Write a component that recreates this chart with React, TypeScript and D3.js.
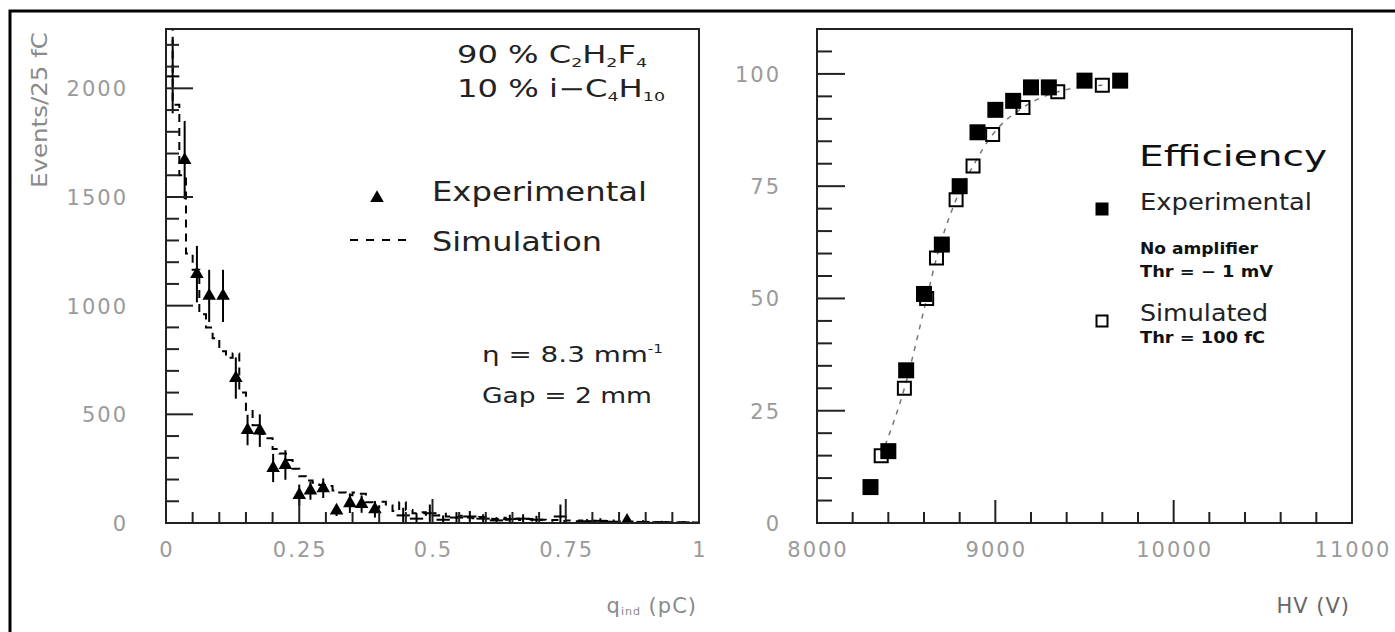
import React from "react";
import * as d3 from "d3";

const W = 1395;
const H = 632;

// ---- left panel: induced charge spectrum ----
const simBinWidth = 0.0125;
const simCounts = [
  2400, 1924, 1600, 1240, 1165, 960, 900, 850, 790, 760, 780, 600, 520, 450, 410, 390, 340, 320, 290, 250,
  215, 195, 185, 175, 170, 150, 140, 128, 140, 135, 95, 70, 98, 80, 55, 95, 60, 45, 50, 38,
  35, 42, 30, 28, 33, 25, 22, 28, 20, 18, 24, 15, 20, 14, 18, 12, 15, 10, 14, 9,
  12, 8, 11, 7, 10, 6, 9, 5, 8, 5, 7, 4, 6, 3, 5, 3, 4, 2, 3, 2,
];
const expQ = [0.035, 0.058, 0.081, 0.107, 0.131, 0.153, 0.176, 0.201, 0.224, 0.25, 0.271, 0.295, 0.32, 0.345, 0.367, 0.392, 0.865];
const expCounts = [1670, 1145, 1045, 1045, 667, 428, 425, 253, 267, 129, 149, 160, 57, 91, 87, 63, 10];
const expErr = [180, 130, 120, 120, 95, 70, 75, 65, 68, 48, 42, 45, 25, 45, 40, 38, 10];
// points drawn as crosses only (no marker)
const crossQ = [0.0125, 0.445, 0.47, 0.495, 0.52, 0.545, 0.57, 0.595, 0.62, 0.645, 0.67, 0.695, 0.74, 0.79, 0.815, 0.84, 0.895, 0.93, 0.97];
const crossCounts = [2055, 35, 20, 45, 15, 25, 30, 20, 12, 18, 20, 15, 30, 8, 10, 6, 5, 4, 3];
const crossErr = [170, 35, 25, 40, 20, 25, 25, 20, 15, 20, 20, 18, 55, 10, 12, 10, 8, 6, 5];
const leftXLabels = ["0", "0.25", "0.5", "0.75", "1"];
const leftYLabels = [0, 500, 1000, 1500, 2000];

// ---- right panel: efficiency vs HV ----
const hvExp = [8300, 8400, 8500, 8600, 8700, 8800, 8900, 9000, 9100, 9200, 9300, 9500, 9700];
const effExp = [8, 16, 34, 51, 62, 75, 87, 92, 94, 97, 97, 98.5, 98.5];
const hvSim = [8360, 8490, 8615, 8670, 8780, 8875, 8985, 9155, 9350, 9600];
const effSim = [15, 30, 50, 59, 72, 79.5, 86.5, 92.5, 96, 97.5];
const rightXLabels = [8000, 9000, 10000, 11000];
const rightYLabels = [0, 25, 50, 75, 100];

const FONT = "'DejaVu Sans', sans-serif";
const TICK_COLOR = "#9a9a9a";

export default function App() {
  // scales
  const xL = d3.scaleLinear().domain([0, 1]).range([166, 699]);
  const yL = d3.scaleLinear().domain([0, 2273]).range([523, 29]);
  const xR = d3.scaleLinear().domain([8000, 11000]).range([817, 1352]);
  const yR = d3.scaleLinear().domain([0, 110]).range([523, 29]);

  // histogram step path
  const histPts: [number, number][] = simCounts.map((c, i) => [i * simBinWidth, c]);
  histPts.push([simCounts.length * simBinWidth, simCounts[simCounts.length - 1]]);
  const histLine = d3
    .line<[number, number]>()
    .x((d) => xL(d[0]))
    .y((d) => yL(d[1]))
    .curve(d3.curveStepAfter);

  const fitLine = d3
    .line<number>()
    .x((_, i) => xR(hvSim[i]))
    .y((d) => yR(d))
    .curve(d3.curveMonotoneX);

  const tri = d3.symbol().type(d3.symbolTriangle).size(80)();
  const sqFilled = d3.symbol().type(d3.symbolSquare).size(256)();
  const sqOpen = d3.symbol().type(d3.symbolSquare).size(169)();
  const legSqFilled = d3.symbol().type(d3.symbolSquare).size(169)();
  const legSqOpen = d3.symbol().type(d3.symbolSquare).size(121)();

  const leftYTicks = d3.range(0, 2201, 100);
  const leftXTicks = d3.range(0, 21).map((i) => i * 0.05);
  const rightXTicks = d3.range(8000, 11001, 200);
  const rightYTicks = d3.range(0, 111, 5);

  const axisStroke = "#222";

  return (
    <svg
      width={W}
      height={H}
      style={{ position: "absolute", left: 0, top: 0, background: "#fff" }}
      fontFamily={FONT}
    >
      <defs>
        <clipPath id="clipL">
          <rect x={166} y={29} width={533} height={494} />
        </clipPath>
      </defs>
      <rect x={0} y={0} width={W} height={H} fill="#fff" />
      {/* outer frame */}
      <path d={`M${W} 11 H10 V${H}`} fill="none" stroke="#000" strokeWidth={3} />

      {/* ===== LEFT PANEL ===== */}
      <g clipPath="url(#clipL)">
        <path
          d={histLine(histPts) || ""}
          fill="none"
          stroke="#000"
          strokeWidth={2}
          strokeDasharray="8 6"
        />
        {crossQ.map((q, i) => (
          <g key={"c" + i} stroke="#000" strokeWidth={2}>
            <line x1={xL(q)} x2={xL(q)} y1={yL(crossCounts[i] + crossErr[i])} y2={yL(Math.max(0, crossCounts[i] - crossErr[i]))} />
            <line x1={xL(q - 0.0125)} x2={xL(q + 0.0125)} y1={yL(crossCounts[i])} y2={yL(crossCounts[i])} />
          </g>
        ))}
        {expQ.map((q, i) => (
          <g key={"e" + i}>
            <line
              x1={xL(q)}
              x2={xL(q)}
              y1={yL(expCounts[i] + expErr[i])}
              y2={yL(Math.max(0, expCounts[i] - expErr[i]))}
              stroke="#000"
              strokeWidth={2}
            />
            <path d={tri || ""} transform={`translate(${xL(q)},${yL(expCounts[i])})`} fill="#000" />
          </g>
        ))}
      </g>
      <rect x={166} y={29} width={533} height={494} fill="none" stroke={axisStroke} strokeWidth={2} />
      {leftYTicks.map((v) => (
        <line key={"ly" + v} x1={166} x2={166 + (v % 500 === 0 ? 27 : 13)} y1={yL(v)} y2={yL(v)} stroke={axisStroke} strokeWidth={2} />
      ))}
      {leftXTicks.map((v, i) => (
        <line key={"lx" + i} x1={xL(v)} x2={xL(v)} y1={523} y2={523 - (i % 5 === 0 ? 24 : 11)} stroke={axisStroke} strokeWidth={2} />
      ))}
      {leftYLabels.map((v) => (
        <text key={"lyl" + v} x={128} y={yL(v) + 8} textAnchor="end" fontSize={21} fill={TICK_COLOR} letterSpacing={2}>
          {v}
        </text>
      ))}
      {leftXLabels.map((s) => (
        <text key={"lxl" + s} x={xL(+s) + 1} y={557} textAnchor="middle" fontSize={21} fill={TICK_COLOR} letterSpacing={2}>
          {s}
        </text>
      ))}
      <text transform="translate(47,188) rotate(-90)" fontSize={21} fill="#8a8a8a" textLength={156} lengthAdjust="spacingAndGlyphs">
        Events/25 fC
      </text>
      <text x={697} y={613} textAnchor="end" fontSize={21} fill="#8a8a8a" letterSpacing={1}>
        q<tspan fontSize={11} dy={2}>ind</tspan>
        <tspan dy={-2}> (pC)</tspan>
      </text>

      {/* left legend */}
      <text x={457} y={63} fontSize={24} fill="#222" textLength={190} lengthAdjust="spacingAndGlyphs">
        90 % C<tspan fontSize={13} dy={4}>2</tspan>
        <tspan dy={-4}>H</tspan>
        <tspan fontSize={13} dy={4}>2</tspan>
        <tspan dy={-4}>F</tspan>
        <tspan fontSize={13} dy={4}>4</tspan>
      </text>
      <text x={457} y={97} fontSize={24} fill="#222" textLength={208} lengthAdjust="spacingAndGlyphs">
        10 % i−C<tspan fontSize={13} dy={4}>4</tspan>
        <tspan dy={-4}>H</tspan>
        <tspan fontSize={13} dy={4}>10</tspan>
      </text>
      <path d={tri || ""} transform="translate(377,198)" fill="#000" />
      <text x={432} y={201} fontSize={26} fill="#222" textLength={215} lengthAdjust="spacingAndGlyphs">
        Experimental
      </text>
      <line x1={350} x2={406} y1={240} y2={240} stroke="#000" strokeWidth={2} strokeDasharray="8 8" />
      <text x={432} y={251} fontSize={26} fill="#222" textLength={170} lengthAdjust="spacingAndGlyphs">
        Simulation
      </text>
      <text x={482} y={362} fontSize={22} fill="#222" textLength={181} lengthAdjust="spacingAndGlyphs">
        η = 8.3 mm<tspan fontSize={12} dy={-9}>-1</tspan>
      </text>
      <text x={482} y={403} fontSize={22} fill="#222" textLength={170} lengthAdjust="spacingAndGlyphs">
        Gap = 2 mm
      </text>

      {/* ===== RIGHT PANEL ===== */}
      <path
        d={fitLine(effSim) || ""}
        fill="none"
        stroke="#777"
        strokeWidth={1.5}
        strokeDasharray="5 6"
      />
      {hvSim.map((v, i) => (
        <path key={"s" + i} d={sqOpen || ""} transform={`translate(${xR(v)},${yR(effSim[i])})`} fill="none" stroke="#000" strokeWidth={2} />
      ))}
      {hvExp.map((v, i) => (
        <path key={"x" + i} d={sqFilled || ""} transform={`translate(${xR(v)},${yR(effExp[i])})`} fill="#000" />
      ))}
      <rect x={817} y={29} width={535} height={494} fill="none" stroke={axisStroke} strokeWidth={2} />
      {rightYTicks.map((v) => (
        <line key={"ry" + v} x1={817} x2={817 + (v % 25 === 0 ? 28 : 15)} y1={yR(v)} y2={yR(v)} stroke={axisStroke} strokeWidth={2} />
      ))}
      {rightXTicks.map((v) => (
        <line key={"rx" + v} x1={xR(v)} x2={xR(v)} y1={523} y2={523 - (v % 1000 === 0 ? 23 : 11)} stroke={axisStroke} strokeWidth={2} />
      ))}
      {rightYLabels.map((v) => (
        <text key={"ryl" + v} x={781} y={yR(v) + 8} textAnchor="end" fontSize={21} fill={TICK_COLOR} letterSpacing={2}>
          {v}
        </text>
      ))}
      {rightXLabels.map((v) => (
        <text key={"rxl" + v} x={xR(v) + 1} y={557} textAnchor="middle" fontSize={21} fill={TICK_COLOR} letterSpacing={2}>
          {v}
        </text>
      ))}
      <text x={1350} y={613} textAnchor="end" fontSize={21} fill="#666" letterSpacing={1}>
        HV (V)
      </text>

      {/* right legend */}
      <text x={1139} y={166} fontSize={29} fill="#111" textLength={188} lengthAdjust="spacingAndGlyphs">
        Efficiency
      </text>
      <path d={legSqFilled || ""} transform="translate(1102,209)" fill="#000" />
      <text x={1140} y={210} fontSize={23} fill="#222" textLength={172} lengthAdjust="spacingAndGlyphs">
        Experimental
      </text>
      <text x={1140} y={254} fontSize={15} fontWeight="bold" fill="#111" textLength={118} lengthAdjust="spacingAndGlyphs">
        No amplifier
      </text>
      <text x={1140} y={277} fontSize={15} fontWeight="bold" fill="#111" textLength={133} lengthAdjust="spacingAndGlyphs">
        Thr = − 1 mV
      </text>
      <path d={legSqOpen || ""} transform="translate(1102,321)" fill="none" stroke="#000" strokeWidth={2} />
      <text x={1140} y={321} fontSize={23} fill="#222" textLength={128} lengthAdjust="spacingAndGlyphs">
        Simulated
      </text>
      <text x={1140} y={343} fontSize={15} fontWeight="bold" fill="#111" textLength={125} lengthAdjust="spacingAndGlyphs">
        Thr = 100 fC
      </text>
    </svg>
  );
}
